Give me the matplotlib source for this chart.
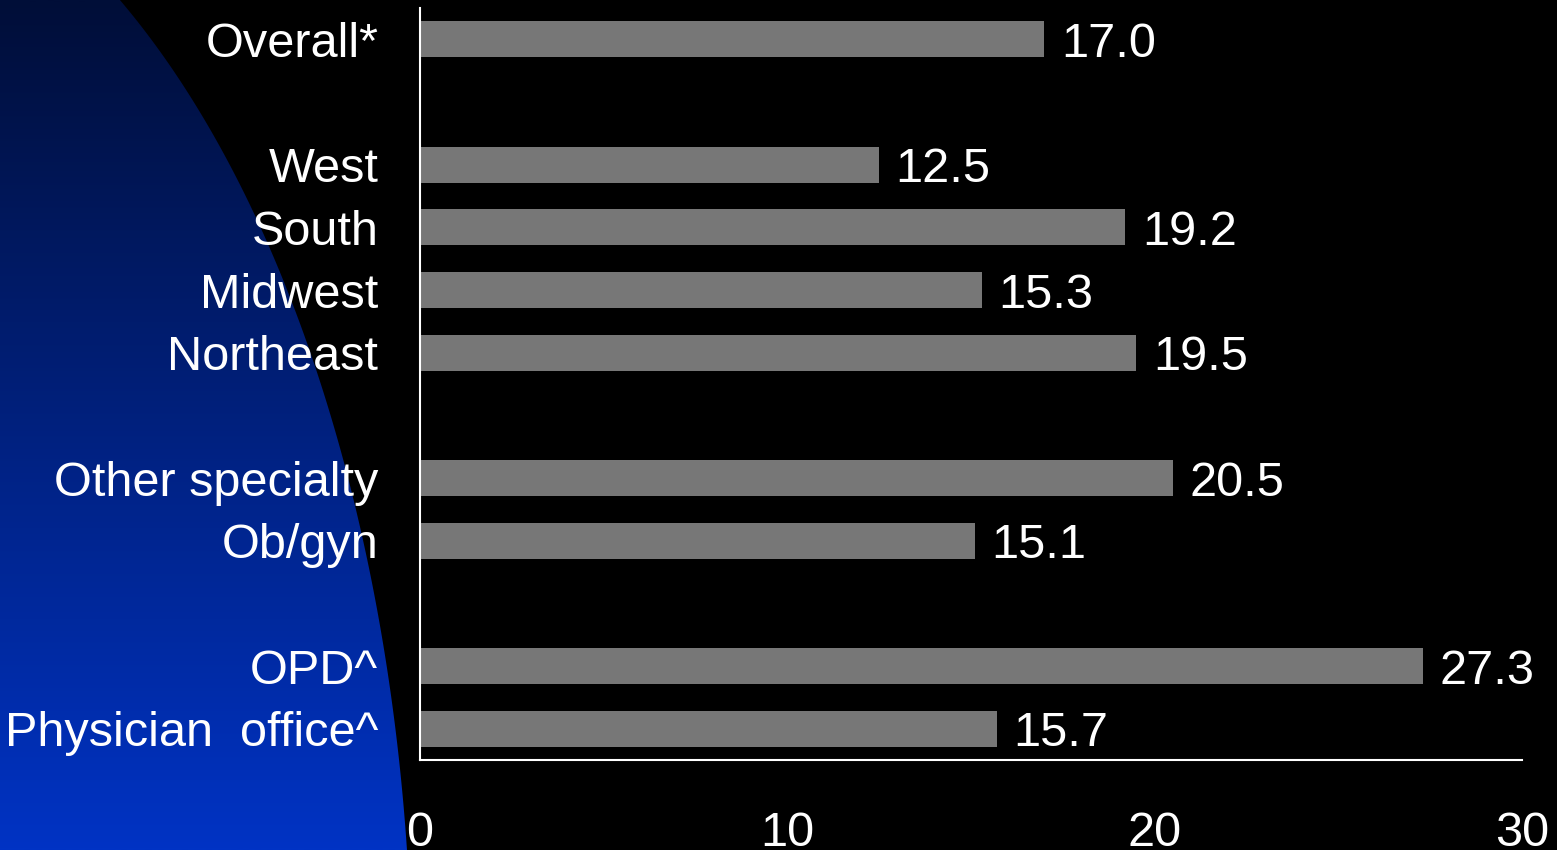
import numpy as np
import matplotlib
matplotlib.use("Agg")
import matplotlib.pyplot as plt
from matplotlib.patches import Polygon

plt.rcParams['font.family'] = ['Liberation Sans', 'DejaVu Sans']

categories = ["Overall*", "West", "South", "Midwest", "Northeast",
              "Other specialty", "Ob/gyn", "OPD^", "Physician  office^"]
positions = [0, 2, 3, 4, 5, 7, 8, 10, 11]
values = [17.0, 12.5, 19.2, 15.3, 19.5, 20.5, 15.1, 27.3, 15.7]
x_ticks = [0, 10, 20, 30]

W, H = 1557, 850
fig = plt.figure(figsize=(W / 100, H / 100), dpi=100, facecolor="black")

# Decorative blue panel with a curved right edge and vertical gradient
bg = fig.add_axes([0, 0, 1, 1], zorder=0)
bg.set_xlim(0, W)
bg.set_ylim(H, 0)
bg.axis("off")
bg.set_facecolor("black")
top_col = np.array([0x00, 0x0e, 0x38]) / 255
bot_col = np.array([0x00, 0x33, 0xc4]) / 255
t = np.linspace(0, 1, 256)[:, None]
grad = (top_col[None, :] * (1 - t) + bot_col[None, :] * t)[:, None, :]
img = bg.imshow(grad, extent=[0, W, H, 0], aspect="auto", interpolation="bilinear")
ys = np.linspace(0, H, 200)
A, B, cx, cy = 612.0, 1173.0, -200.0, 1000.0
xs = cx + A * np.sqrt(np.clip(1 - ((ys - cy) / B) ** 2, 0, None))
poly = np.vstack([[0, 0], np.column_stack([xs, ys]), [0, H]])
clip = Polygon(poly, closed=True, transform=bg.transData, facecolor="none", edgecolor="none")
bg.add_patch(clip)
img.set_clip_path(clip)

# Bar chart
ax = fig.add_axes([420 / W, 1 - 760 / H, (1522 - 420) / W, (760 - 8) / H], zorder=1)
ax.patch.set_alpha(0)
ax.barh(positions, values, height=0.575, color="#777777", zorder=2)
for p, v in zip(positions, values):
    ax.text(v + 0.45, p, f"{v:.1f}", color="white", fontsize=35,
            va="center_baseline", ha="left")

ax.set_xlim(0, 30)
ax.set_ylim(11.5, -0.5)
ax.set_yticks(positions)
ax.set_yticklabels(categories, fontsize=35, color="white")
ax.set_xticks(x_ticks)
ax.set_xticklabels([str(v) for v in x_ticks], fontsize=35, color="white")
ax.tick_params(axis="y", length=0, pad=30)
ax.tick_params(axis="x", length=0, pad=37)
for side in ("top", "right"):
    ax.spines[side].set_visible(False)
for side in ("left", "bottom"):
    ax.spines[side].set_color("white")
    ax.spines[side].set_linewidth(1.5)

fig.savefig("out.png", dpi=100, facecolor="black")
